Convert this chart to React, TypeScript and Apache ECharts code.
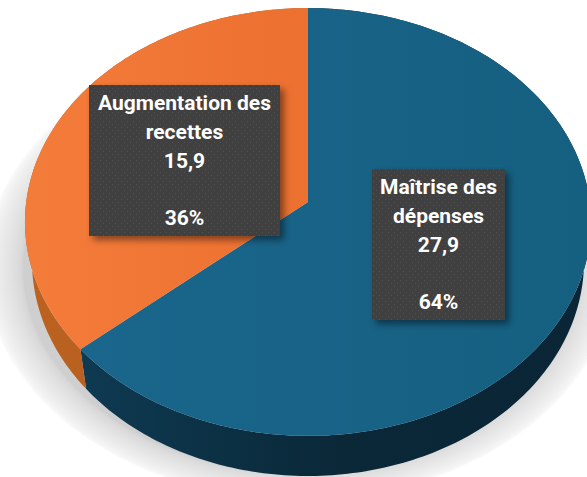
import React, { useEffect, useRef } from "react";
import * as echarts from "echarts";

const categories = ["Maîtrise des\ndépenses", "Augmentation des\nrecettes"];
const values = [27.9, 15.9];
const percents = ["64%", "36%"];
const topColors = [["#1a668c", "#155f80"], ["#f47c3a", "#ec7030"]];
const sideColors = [["#0e3a52", "#0a2838", "#0a2636"], ["#bb6220", "#b65f20", "#b05a1e"]];

const K = 0.0935;
const TOP = { cx: 308, cy: 202, a: 212, b: 281.8 };
const BOTTOM = { cx: 308, cy: 241, a: 213, b: 274.8 };
const BOXES = [
  { x: 372, y: 169, w: 133, h: 151 },
  { x: 89, y: 85, w: 191, h: 151 },
];

function project(f: any, t: number) {
  const u = Math.sin(t);
  const v = Math.cos(t);
  const w = 1 + K * v;
  return [f.cx + (f.b * u) / w, f.cy - (f.a * v) / w];
}

function arc(f: any, t0: number, t1: number) {
  const n = Math.max(2, Math.ceil(((t1 - t0) * 180) / Math.PI));
  const pts: number[][] = [];
  for (let i = 0; i <= n; i++) pts.push(project(f, t0 + ((t1 - t0) * i) / n));
  return pts;
}

function range(i: number) {
  const total = values.reduce((s, x) => s + x, 0);
  const before = values.slice(0, i).reduce((s, x) => s + x, 0);
  return [(before / total) * 2 * Math.PI, ((before + values[i]) / total) * 2 * Math.PI];
}

function grad(c: string[]) {
  return new echarts.graphic.LinearGradient(
    0,
    0,
    1,
    0,
    c.map((color, i) => ({ offset: i / (c.length - 1), color }))
  );
}

function dots() {
  const c = document.createElement("canvas");
  c.width = 6;
  c.height = 6;
  const g = c.getContext("2d")!;
  g.fillStyle = "rgba(255,255,255,0.09)";
  g.fillRect(1, 1, 1, 1);
  g.fillRect(4, 4, 1, 1);
  return c;
}

function softShadow() {
  const layers = 24;
  const out: any[] = [];
  for (let i = 0; i < layers; i++) {
    const s = i / (layers - 1);
    const t = s * s * (3 - 2 * s);
    out.push({
      type: "ellipse",
      z: 0,
      silent: true,
      shape: { cx: 300, cy: 268, rx: 277 + 38 * t, ry: 205 + 27 * t },
      style: { fill: "rgba(0,0,0,0.0095)" },
    });
  }
  return out;
}

export default function App() {
  const ref = useRef<HTMLDivElement>(null);
  useEffect(() => {
    document.body.style.margin = "0";
    const chart = echarts.init(ref.current!, null, { renderer: "svg" });
    const pattern = dots();
    const data = values.map((v, i) => ({ value: v, name: categories[i] }));
    chart.setOption({
      animation: false,
      backgroundColor: "#ffffff",
      graphic: softShadow(),
      series: [
        {
          type: "custom",
          coordinateSystem: "none",
          silent: true,
          z: 2,
          data,
          renderItem: (p: any) => {
            const [t0, t1] = range(p.dataIndex);
            const up = arc(TOP, t0, t1);
            const low = arc(BOTTOM, t0, t1).reverse();
            return {
              type: "polygon",
              shape: { points: up.concat(low) },
              style: { fill: grad(sideColors[p.dataIndex]) },
            };
          },
        },
        {
          type: "custom",
          coordinateSystem: "none",
          silent: true,
          z: 3,
          data,
          renderItem: (p: any) => {
            const [t0, t1] = range(p.dataIndex);
            return {
              type: "polygon",
              shape: { points: [[TOP.cx, TOP.cy]].concat(arc(TOP, t0, t1)) },
              style: { fill: grad(topColors[p.dataIndex]) },
            };
          },
        },
        {
          type: "custom",
          coordinateSystem: "none",
          silent: true,
          z: 4,
          data,
          renderItem: (p: any) => {
            const i = p.dataIndex;
            const b = BOXES[i];
            const text = `${categories[i]}\n${String(values[i]).replace(".", ",")}\n\n${percents[i]}`;
            return {
              type: "group",
              children: [
                {
                  type: "rect",
                  shape: { x: b.x, y: b.y, width: b.w, height: b.h },
                  style: {
                    fill: "#404040",
                    shadowColor: "rgba(0,0,0,0.45)",
                    shadowBlur: 7,
                    shadowOffsetX: 4,
                    shadowOffsetY: 4,
                  },
                },
                {
                  type: "rect",
                  shape: { x: b.x, y: b.y, width: b.w, height: b.h },
                  style: { fill: { image: pattern, repeat: "repeat" } },
                },
                {
                  type: "text",
                  x: b.x + b.w / 2,
                  y: b.y + 4,
                  style: {
                    text,
                    fill: "#ffffff",
                    font: "bold 21px Roboto, sans-serif",
                    lineHeight: 28.7,
                    align: "center",
                    verticalAlign: "top",
                  },
                },
              ],
            };
          },
        },
      ],
    });
    return () => chart.dispose();
  }, []);
  return <div ref={ref} style={{ width: 587, height: 477 }} />;
}
